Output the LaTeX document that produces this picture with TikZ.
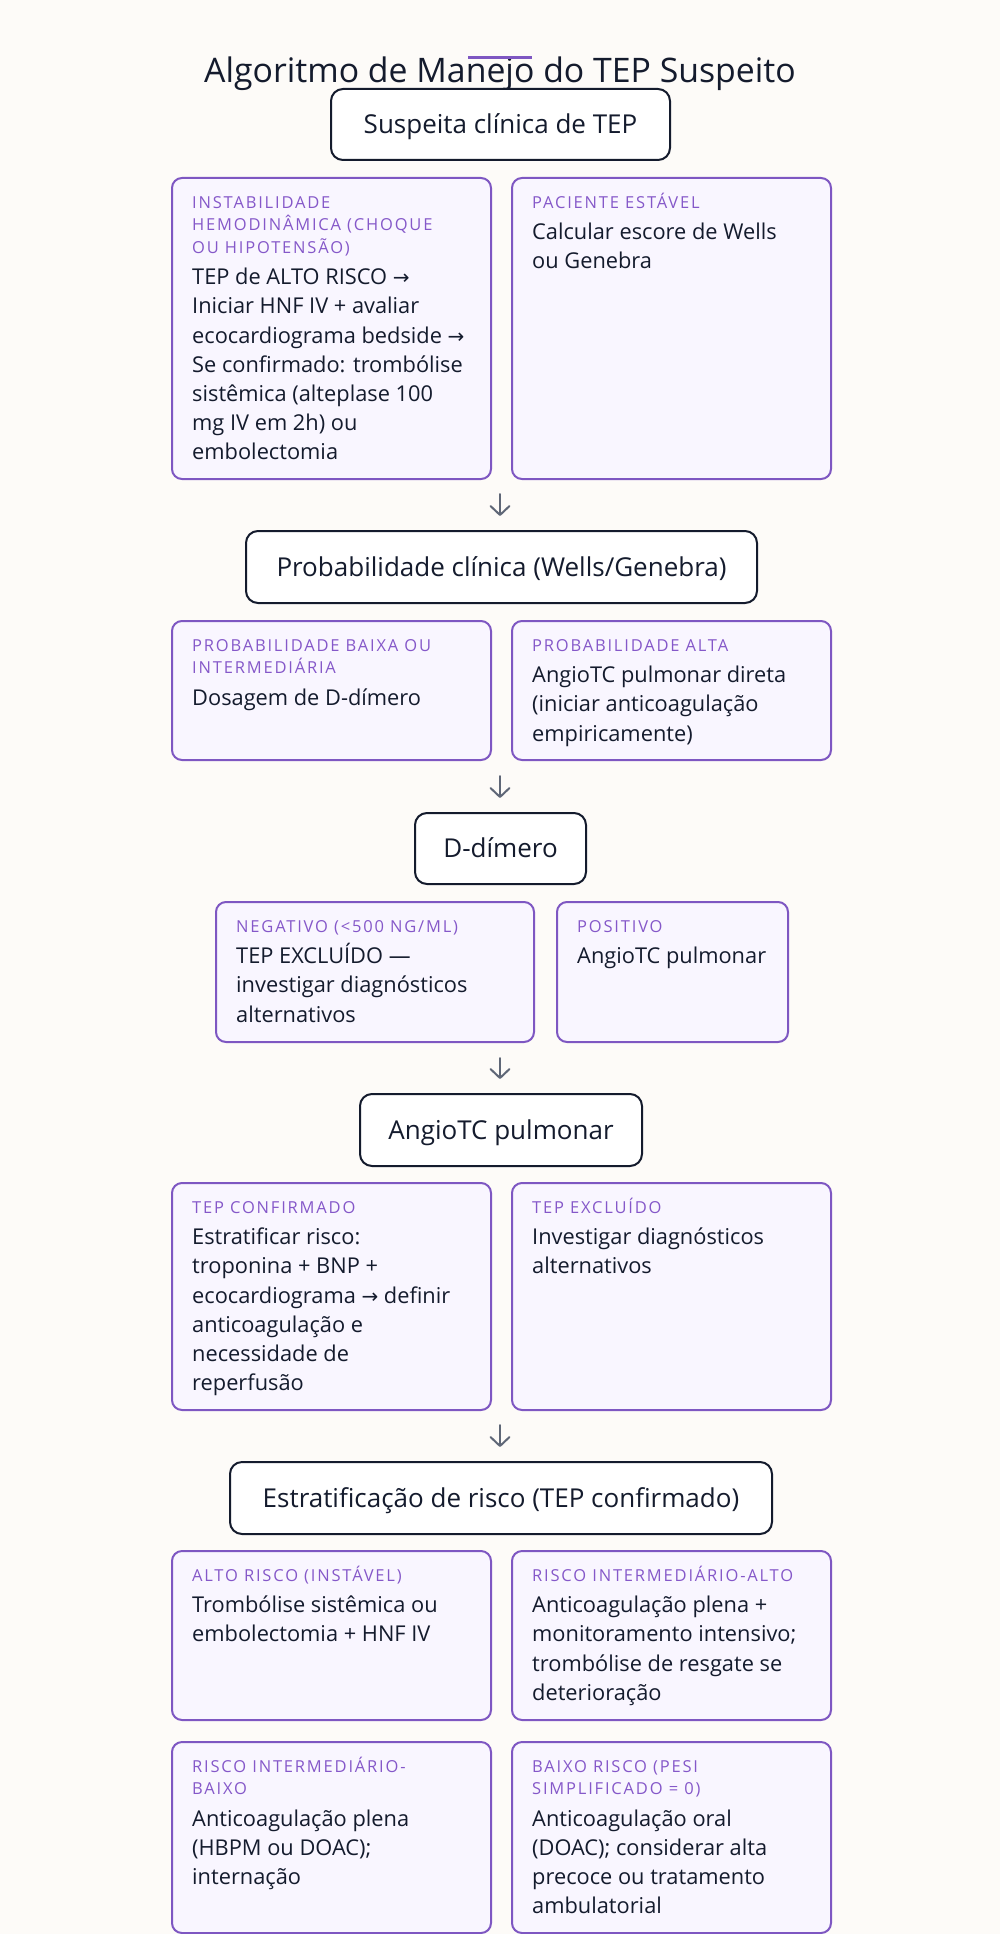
\documentclass[tikz,border=0pt]{standalone}
\usepackage{fontspec}
\setmainfont{Open Sans}
\newfontfamily\hdrfont[LetterSpace=11]{Open Sans}
\newfontfamily\symf{DejaVu Sans}
\usetikzlibrary{arrows.meta}
\definecolor{bgc}{HTML}{FDFBF8}
\definecolor{ink}{HTML}{141B2D}
\definecolor{pur}{HTML}{7E57C2}
\definecolor{purtxt}{HTML}{8558C9}
\definecolor{purfill}{HTML}{F9F6FF}
\definecolor{arrc}{HTML}{5F6777}
\newcommand\rarr{{\symf\fontsize{20}{20}\selectfont →}}
\tikzset{
  mainbox/.style={draw=ink, line width=2pt, fill=white, rounded corners=12pt, inner sep=0pt, font=\fontsize{26}{30}\selectfont, text=ink, text height=18.5pt, text depth=0pt},
  pbox/.style={draw=pur, line width=2pt, fill=purfill, rounded corners=10pt, inner sep=0pt},
  hdr/.style={inner sep=0pt, align=left, text=purtxt, font=\hdrfont\fontsize{16.5}{22.5}\selectfont},
  bdy/.style={inner sep=0pt, align=left, text=ink, font=\fontsize{21.8}{29.2}\selectfont},
  arr/.style={draw=arrc, line width=2pt, line cap=round, -{Straight Barb[length=9pt,width=19pt,line width=2pt,round]}, shorten <=16pt, shorten >=15pt}
}
% name, left, top, right, bottom, header lines, header, body
\newcommand\pcard[8]{%
  \node[pbox, anchor=north west, minimum width={#4-#2}, minimum height={#5-#3}] (#1) at ({#2},{#3}) {};
  \node[hdr, anchor=north west] (#1h) at ({#2+21},{#3+14}) {\rule{0pt}{17pt}#7};
  \node[bdy, anchor=north west] (#1b) at ({#2+21},{#3+40.5+22.5*(#6-1)}) {\rule{0pt}{22pt}#8};
}
\begin{document}
\begin{tikzpicture}[x=1pt,y=-1pt]
\useasboundingbox (0,0) rectangle (1000,1934);
\fill[bgc] (0,0) rectangle (1000,1934);

\node[anchor=base, text=ink, font=\fontsize{33.8}{40}\selectfont, inner sep=0pt] (title) at (500,83) {Algoritmo de Manejo do TEP Suspeito};
\fill[pur] (468,56) rectangle (532,59.5);

\node[mainbox, minimum width=339pt, minimum height=71pt] (n1) at (500.5,124.5) {Suspeita clínica de TEP};

\pcard{r1l}{171}{177}{490}{478}{3}{INSTABILIDADE\\HEMODINÂMICA (CHOQUE\\OU HIPOTENSÃO)}{TEP de ALTO RISCO \rarr\\Iniciar HNF IV + avaliar\\ecocardiograma bedside \rarr\\Se confirmado: trombólise\\sistêmica (alteplase 100\\mg IV em 2h) ou\\embolectomia}
\pcard{r1r}{511}{177}{830}{478}{1}{PACIENTE ESTÁVEL}{Calcular escore de Wells\\ou Genebra}

\coordinate (a1s) at (500,478);
\coordinate (a1e) at (500,531);
\draw[arr] (a1s) -- (a1e);

\node[mainbox, minimum width=511pt, minimum height=72pt] (n2) at (501.5,567) {Probabilidade clínica (Wells/Genebra)};

\pcard{r2l}{171}{620}{490}{759}{2}{PROBABILIDADE BAIXA OU\\INTERMEDIÁRIA}{Dosagem de D-dímero}
\pcard{r2r}{511}{620}{830}{759}{1}{PROBABILIDADE ALTA}{AngioTC pulmonar direta\\(iniciar anticoagulação\\empiricamente)}

\coordinate (a2s) at (500,760);
\coordinate (a2e) at (500,813);
\draw[arr] (a2s) -- (a2e);

\node[mainbox, minimum width=171pt, minimum height=71pt] (n3) at (500.5,848.5) {D-dímero};

\pcard{r3l}{215}{901}{533}{1041}{1}{NEGATIVO (<500 NG/ML)}{TEP EXCLUÍDO —\\investigar diagnósticos\\alternativos}
\pcard{r3r}{556}{901}{787}{1041}{1}{POSITIVO}{AngioTC pulmonar}

\coordinate (a3s) at (500,1042);
\coordinate (a3e) at (500,1094);
\draw[arr] (a3s) -- (a3e);

\node[mainbox, minimum width=282pt, minimum height=72pt] (n4) at (501,1130) {AngioTC pulmonar};

\pcard{r4l}{171}{1182}{490}{1409}{1}{TEP CONFIRMADO}{Estratificar risco:\\troponina + BNP +\\ecocardiograma \rarr{} definir\\anticoagulação e\\necessidade de\\reperfusão}
\pcard{r4r}{511}{1182}{830}{1409}{1}{TEP EXCLUÍDO}{Investigar diagnósticos\\alternativos}

\coordinate (a4s) at (500,1409);
\coordinate (a4e) at (500,1462);
\draw[arr] (a4s) -- (a4e);

\node[mainbox, minimum width=542pt, minimum height=72pt] (n5) at (501,1498) {Estratificação de risco (TEP confirmado)};

\pcard{r5l}{171}{1550}{490}{1719}{1}{ALTO RISCO (INSTÁVEL)}{Trombólise sistêmica ou\\embolectomia + HNF IV}
\pcard{r5r}{511}{1550}{830}{1719}{1}{RISCO INTERMEDIÁRIO-ALTO}{Anticoagulação plena +\\monitoramento intensivo;\\trombólise de resgate se\\deterioração}

\pcard{r6l}{171}{1741}{490}{1932}{2}{RISCO INTERMEDIÁRIO-\\BAIXO}{Anticoagulação plena\\(HBPM ou DOAC);\\internação}
\pcard{r6r}{511}{1741}{830}{1932}{2}{BAIXO RISCO (PESI\\SIMPLIFICADO = 0)}{Anticoagulação oral\\(DOAC); considerar alta\\precoce ou tratamento\\ambulatorial}
\end{tikzpicture}
\end{document}
